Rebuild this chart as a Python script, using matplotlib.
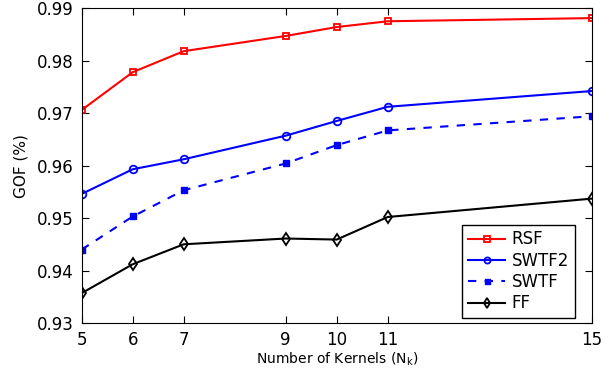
import numpy as np
import matplotlib
matplotlib.use("Agg")
import matplotlib.pyplot as plt

kernels = [5, 6, 7, 9, 10, 11, 15]
rsf = [0.9706, 0.9778, 0.9818, 0.9847, 0.9864, 0.9875, 0.9881]
swtf2 = [0.9546, 0.9593, 0.9612, 0.9657, 0.9685, 0.9712, 0.9742]
swtf = [0.9440, 0.9503, 0.9553, 0.9604, 0.9639, 0.9667, 0.9694]
ff = [0.9357, 0.9412, 0.9450, 0.9461, 0.9459, 0.9502, 0.9537]
yticks = [0.93, 0.94, 0.95, 0.96, 0.97, 0.98, 0.99]

plt.rcParams['font.family'] = 'DejaVu Sans'
fig = plt.figure(figsize=(6.1, 3.7), dpi=100)
ax = fig.add_axes([0.134, 0.127, 0.836, 0.851])

ax.plot(kernels, rsf, color='red', lw=1.5, marker='s', ms=5, mfc='none', mew=1.3, label='RSF')
ax.plot(kernels, swtf2, color='blue', lw=1.5, marker='o', ms=5.5, mfc='none', mew=1.3, label='SWTF2')
ax.plot(kernels, swtf, color='blue', lw=1.5, ls='--', dashes=(4, 4), marker='s', ms=4.5, mew=1.0, label='SWTF')
ax.plot(kernels, ff, color='black', lw=1.5, marker='d', ms=6, mfc='none', mew=1.3, label='FF')

ax.set_xlim(5, 15)
ax.set_ylim(0.93, 0.99)
ax.set_xticks(kernels)
ax.set_yticks(yticks)
ax.set_yticklabels(['%.2f' % v for v in yticks])
ax.tick_params(direction='in', top=True, right=True, labelsize=12, length=5, pad=6)
ax.set_xlabel('Number of Kernels (N$_\\mathrm{k}$)', fontsize=10, labelpad=1)
ax.set_ylabel('GOF (%)', fontsize=11, labelpad=6)

leg = ax.legend(loc='lower right', bbox_to_anchor=(0.967, 0.015), fontsize=12,
                fancybox=False, edgecolor='black', framealpha=1, handlelength=2.2,
                markerscale=0.8, borderaxespad=0, labelspacing=0.2, handletextpad=0.4,
                borderpad=0.35)
leg.get_frame().set_linewidth(1.0)

fig.savefig('out.png', dpi=100)
